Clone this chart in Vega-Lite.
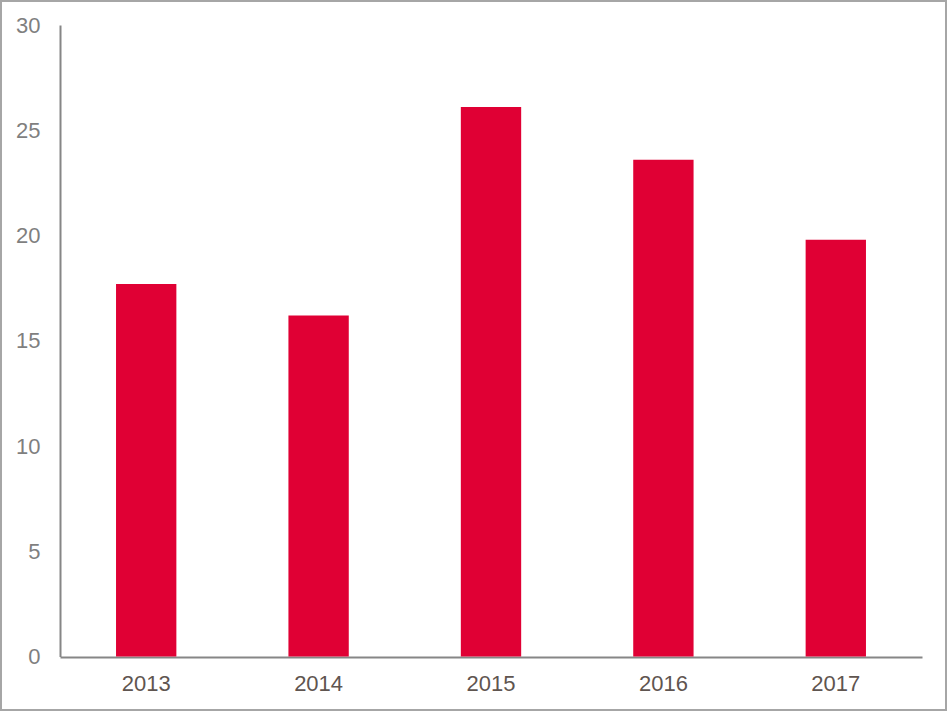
{
  "$schema": "https://vega.github.io/schema/vega-lite/v6.json",
  "description": "Annual values 2013-2017, red bars",
  "width": 945,
  "height": 709,
  "padding": 1,
  "autosize": "none",
  "background": "white",
  "data": {
    "values": [
      {"year": "2013", "value": 17.7},
      {"year": "2014", "value": 16.2},
      {"year": "2015", "value": 26.1},
      {"year": "2016", "value": 23.6},
      {"year": "2017", "value": 19.8}
    ]
  },
  "mark": {"type": "bar", "color": "#e00034"},
  "encoding": {
    "x": {
      "field": "year",
      "type": "ordinal",
      "scale": {"range": [59, 921], "paddingInner": 0.65, "paddingOuter": 0.325},
      "axis": {
        "title": null,
        "offset": -53,
        "domainColor": "#868686",
        "domainWidth": 2,
        "ticks": false,
        "labelAngle": 0,
        "labelFont": "Liberation Sans",
        "labelFontSize": 22,
        "labelColor": "#5f5550",
        "labelPadding": 16
      }
    },
    "y": {
      "field": "value",
      "type": "quantitative",
      "scale": {"domain": [0, 30], "range": [655.5, 24], "nice": false},
      "axis": {
        "title": null,
        "offset": -59,
        "values": [0, 5, 10, 15, 20, 25, 30],
        "grid": false,
        "domainColor": "#868686",
        "domainWidth": 2,
        "ticks": false,
        "labelFont": "Liberation Sans",
        "labelFontSize": 22,
        "labelColor": "#7f7f7f",
        "labelPadding": 20
      }
    }
  },
  "config": {
    "view": {"stroke": "#a6a6a6", "strokeWidth": 2}
  }
}
